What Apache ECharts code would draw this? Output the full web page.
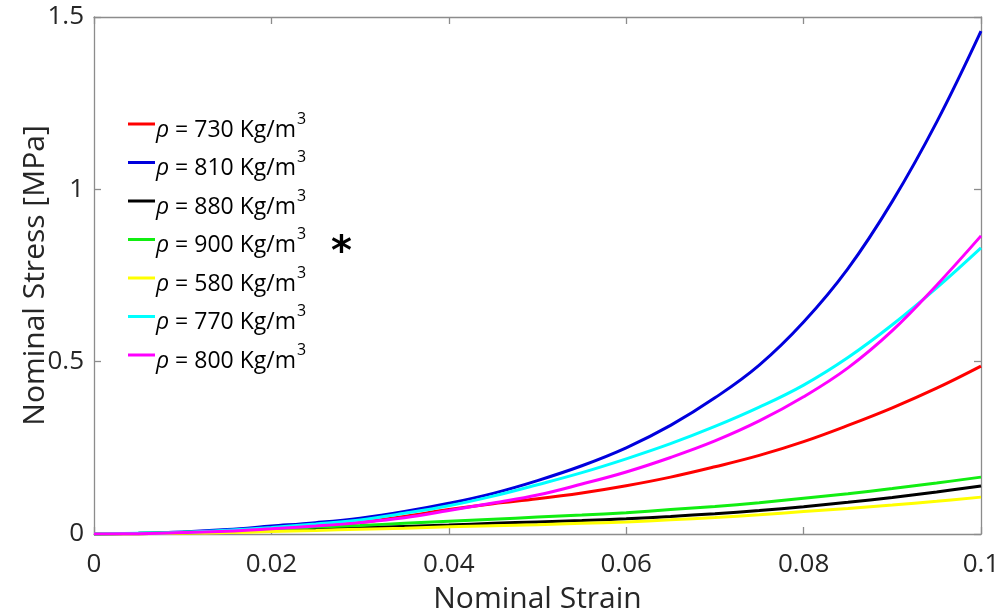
<!DOCTYPE html>
<html>
<head>
<meta charset="utf-8">
<script src="https://cdn.jsdelivr.net/npm/echarts@6/dist/echarts.min.js"></script>
<style>html,body{margin:0;padding:0;background:#fff;}#c{width:1003px;height:614px;}</style>
</head>
<body>
<div id="c"></div>
<script>
var strain = [0, 0.005, 0.01, 0.015, 0.02, 0.025, 0.03, 0.035, 0.04, 0.045, 0.05, 0.055, 0.06, 0.065, 0.07, 0.075, 0.08, 0.085, 0.09, 0.095, 0.1];
var densities = [730, 810, 880, 900, 580, 770, 800];
var colors = ['#ff0000', '#0000dd', '#000000', '#11ee11', '#ffff00', '#00ffff', '#ff00ff'];
var s730 = [0, 0.001, 0.004, 0.009, 0.015, 0.023, 0.033, 0.051, 0.071, 0.088, 0.102, 0.119, 0.140, 0.165, 0.195, 0.228, 0.268, 0.315, 0.366, 0.423, 0.487];
var s810 = [0, 0.002, 0.006, 0.013, 0.023, 0.033, 0.046, 0.065, 0.089, 0.118, 0.155, 0.198, 0.250, 0.315, 0.395, 0.490, 0.615, 0.770, 0.965, 1.195, 1.459];
var s880 = [0, 0.001, 0.003, 0.006, 0.010, 0.014, 0.018, 0.022, 0.026, 0.031, 0.035, 0.039, 0.044, 0.051, 0.059, 0.068, 0.079, 0.092, 0.106, 0.122, 0.139];
var s900 = [0, 0.002, 0.005, 0.009, 0.014, 0.020, 0.025, 0.031, 0.037, 0.043, 0.049, 0.055, 0.062, 0.071, 0.080, 0.091, 0.104, 0.117, 0.132, 0.148, 0.165];
var s580 = [0, 0.001, 0.002, 0.004, 0.007, 0.010, 0.014, 0.017, 0.021, 0.024, 0.027, 0.031, 0.035, 0.041, 0.048, 0.056, 0.065, 0.074, 0.084, 0.095, 0.107];
var s770 = [0, 0.002, 0.005, 0.011, 0.019, 0.029, 0.041, 0.060, 0.082, 0.110, 0.143, 0.178, 0.218, 0.262, 0.312, 0.368, 0.432, 0.512, 0.607, 0.714, 0.830];
var s800 = [0, 0.001, 0.004, 0.008, 0.015, 0.023, 0.033, 0.047, 0.068, 0.090, 0.113, 0.145, 0.180, 0.222, 0.270, 0.328, 0.398, 0.482, 0.590, 0.722, 0.865];
var seriesValues = [s730, s810, s880, s900, s580, s770, s800];
var xTicks = [0, 0.02, 0.04, 0.06, 0.08, 0.1];
var yTicks = [0, 0.5, 1, 1.5];

var FONT = '"Open Sans", sans-serif';
var TXT = '#262626';
var AX = '#8c8c8c';

var series = densities.map(function (d, i) {
  return {
    name: 'ρ = ' + d + ' Kg/m3',
    type: 'line',
    symbol: 'none',
    smooth: 0.4,
    silent: true,
    lineStyle: { color: colors[i], width: 3 },
    itemStyle: { color: colors[i] },
    data: strain.map(function (x, k) { return [x, seriesValues[i][k]]; })
  };
});

var chart = echarts.init(document.getElementById('c'), null, { renderer: 'canvas' });
chart.setOption({
  animation: false,
  backgroundColor: '#fff',
  grid: { left: 94, right: 22, top: 17, bottom: 80, containLabel: false, outerBoundsMode: 'none' },
  legend: {
    orient: 'vertical',
    left: 123,
    top: 106,
    icon: 'rect',
    itemWidth: 27,
    itemHeight: 3,
    itemGap: 8,
    selectedMode: false,
    data: series.map(function (s) { return s.name; }),
    formatter: function (name) {
      var body = name.replace('ρ', '').replace(/3$/, '');
      return '{r|ρ}{t|' + body + '}{s|3}';
    },
    textStyle: {
      fontFamily: FONT,
      fontSize: 23,
      color: '#000',
      padding: [0, 0, 0, -4],
      rich: {
        r: { fontFamily: FONT, fontStyle: 'italic', fontSize: 23, color: '#000', padding: [12, 0, 0, 0] },
        t: { fontFamily: FONT, fontSize: 23, color: '#000', padding: [12, 0, 0, 0] },
        s: { fontFamily: FONT, fontSize: 16, color: '#000', padding: [0, 0, 10, 1] }
      }
    }
  },
  graphic: [{
    type: 'text',
    left: 331,
    top: 234,
    style: { text: '*', fontFamily: '"DejaVu Sans"', fontWeight: 'bold', fontSize: 40, fill: '#000' }
  }],
  xAxis: [{
    type: 'value',
    min: 0, max: 0.1, interval: 0.02,
    name: 'Nominal Strain',
    nameLocation: 'middle',
    nameGap: 50,
    nameTextStyle: { fontFamily: FONT, fontSize: 30, color: TXT },
    axisLine: { show: true, onZero: false, lineStyle: { color: AX, width: 1.3 } },
    axisTick: { show: true, inside: true, length: 7, lineStyle: { color: AX, width: 1.3 } },
    splitLine: { show: false },
    axisLabel: {
      fontFamily: FONT, fontSize: 26, color: TXT, margin: 18,
      formatter: function (v) { return xTicks.indexOf(+v.toFixed(2)) >= 0 ? String(+v.toFixed(2)) : ''; }
    }
  }, {
    type: 'value', position: 'top',
    min: 0, max: 0.1, interval: 0.02,
    axisLine: { show: true, onZero: false, lineStyle: { color: AX, width: 1.3 } },
    axisTick: { show: true, inside: true, length: 7, lineStyle: { color: AX, width: 1.3 } },
    axisLabel: { show: false },
    splitLine: { show: false }
  }],
  yAxis: [{
    type: 'value',
    min: 0, max: 1.5, interval: 0.5,
    name: 'Nominal Stress [MPa]',
    nameLocation: 'middle',
    nameGap: 44,
    nameMoveOverlap: false,
    nameTextStyle: { fontFamily: FONT, fontSize: 30, color: TXT },
    axisLine: { show: true, onZero: false, lineStyle: { color: AX, width: 1.3 } },
    axisTick: { show: true, inside: true, length: 7, lineStyle: { color: AX, width: 1.3 } },
    splitLine: { show: false },
    axisLabel: {
      fontFamily: FONT, fontSize: 26, color: TXT, margin: 10,
      formatter: function (v) { return yTicks.indexOf(+v.toFixed(1)) >= 0 ? String(+v.toFixed(1)) : ''; }
    }
  }, {
    type: 'value', position: 'right',
    min: 0, max: 1.5, interval: 0.5,
    axisLine: { show: true, onZero: false, lineStyle: { color: AX, width: 1.3 } },
    axisTick: { show: true, inside: true, length: 7, lineStyle: { color: AX, width: 1.3 } },
    axisLabel: { show: false },
    splitLine: { show: false }
  }],
  series: series
});
</script>
</body>
</html>
